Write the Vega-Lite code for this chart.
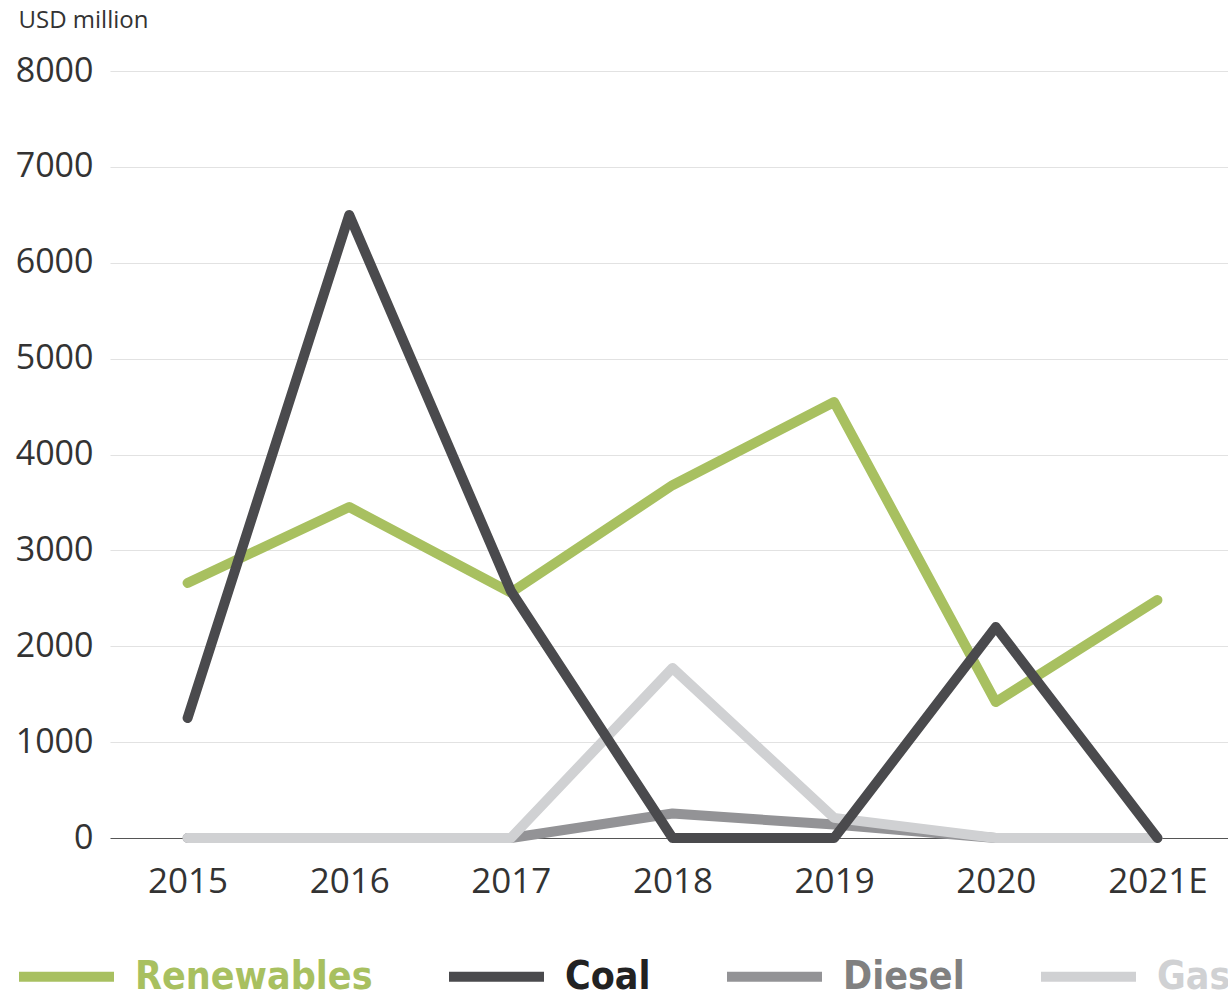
{
  "$schema": "https://vega.github.io/schema/vega-lite/v6.json",
  "autosize": "none",
  "padding": {"left": 110, "top": 71, "right": 0, "bottom": 157},
  "width": 1125,
  "height": 767,
  "background": "white",
  "config": {
    "font": "Open Sans",
    "view": {"stroke": null}
  },
  "data": {
    "values": [
      {"year": "2015", "series": "Renewables", "value": 2660},
      {"year": "2016", "series": "Renewables", "value": 3452},
      {"year": "2017", "series": "Renewables", "value": 2560},
      {"year": "2018", "series": "Renewables", "value": 3680},
      {"year": "2019", "series": "Renewables", "value": 4547},
      {"year": "2020", "series": "Renewables", "value": 1418},
      {"year": "2021E", "series": "Renewables", "value": 2482},
      {"year": "2015", "series": "Coal", "value": 1251},
      {"year": "2016", "series": "Coal", "value": 6498},
      {"year": "2017", "series": "Coal", "value": 2576},
      {"year": "2018", "series": "Coal", "value": 0},
      {"year": "2019", "series": "Coal", "value": 0},
      {"year": "2020", "series": "Coal", "value": 2200},
      {"year": "2021E", "series": "Coal", "value": 0},
      {"year": "2015", "series": "Diesel", "value": 0},
      {"year": "2016", "series": "Diesel", "value": 0},
      {"year": "2017", "series": "Diesel", "value": 0},
      {"year": "2018", "series": "Diesel", "value": 255},
      {"year": "2019", "series": "Diesel", "value": 140},
      {"year": "2020", "series": "Diesel", "value": 0},
      {"year": "2021E", "series": "Diesel", "value": 0},
      {"year": "2015", "series": "Gas", "value": 0},
      {"year": "2016", "series": "Gas", "value": 0},
      {"year": "2017", "series": "Gas", "value": 0},
      {"year": "2018", "series": "Gas", "value": 1773},
      {"year": "2019", "series": "Gas", "value": 210},
      {"year": "2020", "series": "Gas", "value": 0},
      {"year": "2021E", "series": "Gas", "value": 0}
    ]
  },
  "encoding": {
    "x": {
      "field": "year",
      "type": "ordinal",
      "scale": {"type": "point", "padding": 0.48},
      "axis": {
        "title": null,
        "labelAngle": 0,
        "labelFontSize": 35,
        "labelColor": "#333333",
        "labelPadding": 26,
        "ticks": false,
        "domain": false,
        "grid": false
      }
    },
    "y": {
      "field": "value",
      "type": "quantitative",
      "scale": {"domain": [0, 8000], "nice": false},
      "axis": {
        "values": [0, 1000, 2000, 3000, 4000, 5000, 6000, 7000, 8000],
        "format": "d",
        "title": "USD million",
        "titleAngle": 0,
        "titleAlign": "left",
        "titleBaseline": "middle",
        "titleX": -92,
        "titleY": -51,
        "titleFontSize": 24,
        "titleFontWeight": "normal",
        "titleColor": "#333333",
        "labelFontSize": 34,
        "labelColor": "#333333",
        "labelPadding": 17,
        "ticks": false,
        "domain": false,
        "grid": true,
        "gridColor": {"condition": {"test": "datum.value === 0", "value": "#555555"}, "value": "#e2e2e2"},
        "gridWidth": 1.2
      }
    },
    "color": {
      "field": "series",
      "type": "nominal",
      "scale": {
        "domain": ["Renewables", "Coal", "Diesel", "Gas"],
        "range": ["#a8c060", "#4a4a4d", "#939396", "#d0d1d3"]
      },
      "legend": {
        "title": null,
        "orient": "none",
        "direction": "horizontal",
        "legendX": -96,
        "legendY": 853,
        "symbolType": "stroke",
        "symbolSize": 9025,
        "symbolStrokeWidth": 10,
        "labelFontSize": 39,
        "labelFont": "DejaVu Sans Condensed",
        "labelFontWeight": "bold",
        "labelOffset": 16,
        "columnPadding": 56,
        "labelLimit": 400,
        "encode": {
          "labels": {
            "update": {
              "fill": {"signal": "datum.value === 'Coal' ? '#222222' : datum.value === 'Diesel' ? '#808080' : scale('color', datum.value)"}
            }
          },
          "symbols": {
            "update": {
              "stroke": {"signal": "datum.value === 'Coal' ? '#222222' : datum.value === 'Diesel' ? '#808080' : scale('color', datum.value)"}
            }
          }
        }
      }
    }
  },
  "layer": [
    {
      "transform": [{"filter": "datum.series === 'Diesel'"}],
      "mark": {"type": "line", "strokeWidth": 10, "strokeCap": "round", "strokeJoin": "round"}
    },
    {
      "transform": [{"filter": "datum.series === 'Gas'"}],
      "mark": {"type": "line", "strokeWidth": 10, "strokeCap": "round", "strokeJoin": "round"}
    },
    {
      "transform": [{"filter": "datum.series === 'Renewables'"}],
      "mark": {"type": "line", "strokeWidth": 10, "strokeCap": "round", "strokeJoin": "round"}
    },
    {
      "transform": [{"filter": "datum.series === 'Coal'"}],
      "mark": {"type": "line", "strokeWidth": 10, "strokeCap": "round", "strokeJoin": "round"}
    }
  ]
}
